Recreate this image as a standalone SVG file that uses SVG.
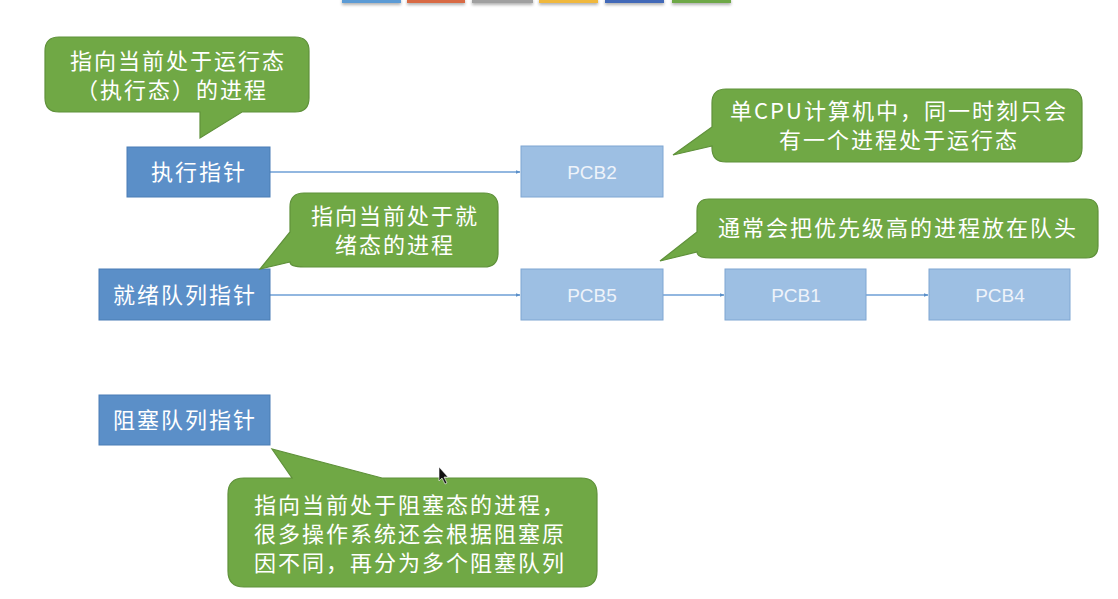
<svg xmlns="http://www.w3.org/2000/svg" width="1118" height="599" viewBox="0 0 1118 599">
<style>
.bg{fill:#ffffff}
.ptr{fill:#5b8fc8;stroke:#4a7db5;stroke-width:1}
.pcb{fill:#9dbfe3;stroke:#7fa6d2;stroke-width:1}
.call{fill:#70a845;stroke:#5f913a;stroke-width:1.2}
.t{font-family:"Noto Sans CJK SC","Microsoft YaHei",sans-serif;font-size:22px;fill:#ffffff;letter-spacing:2px}
.tc{text-anchor:middle}
.pt{font-family:"Liberation Sans","Noto Sans",sans-serif;font-size:19px;fill:#eef3fa;text-anchor:middle}
.ln{stroke:#6e9fd6;stroke-width:1.3;fill:none;marker-end:url(#ah)}
</style>
<defs>
<marker id="ah" viewBox="0 0 10 10" refX="9" refY="5" markerWidth="5" markerHeight="5" orient="auto" markerUnits="userSpaceOnUse">
<path d="M0,1 L10,5 L0,9 Z" fill="#5b8fc8"/>
</marker>
<filter id="sh" x="-10%" y="-50%" width="120%" height="300%">
<feDropShadow dx="0" dy="2" stdDeviation="1.5" flood-color="#000" flood-opacity="0.3"/>
</filter>
</defs>
<rect class="bg" x="0" y="0" width="1118" height="599"/>
<g id="toolbar" filter="url(#sh)">
<rect x="342" y="-2" width="59" height="5" fill="#5b9bd5"/>
<rect x="407" y="-2" width="58" height="5" fill="#d86a44"/>
<rect x="472" y="-2" width="61" height="5" fill="#a0a0a0"/>
<rect x="539" y="-2" width="59" height="5" fill="#f0b83c"/>
<rect x="605" y="-2" width="59" height="5" fill="#4269b8"/>
<rect x="672" y="-2" width="59" height="5" fill="#6ea846"/>
</g>
<g id="connectors">
<line class="ln" x1="270" y1="172" x2="520" y2="172"/>
<line class="ln" x1="270" y1="295" x2="520" y2="295"/>
<line class="ln" x1="663" y1="295" x2="724" y2="295"/>
<line class="ln" x1="866" y1="295" x2="928" y2="295"/>
</g>
<g id="exec-ptr">
<rect class="ptr" x="127" y="147" width="143" height="50"/>
<text class="t tc" x="199" y="180">执行指针</text>
</g>
<g id="ready-ptr">
<rect class="ptr" x="99" y="269" width="171" height="51"/>
<text class="t tc" x="185" y="303">就绪队列指针</text>
</g>
<g id="block-ptr">
<rect class="ptr" x="99" y="395" width="171" height="50"/>
<text class="t tc" x="185" y="428">阻塞队列指针</text>
</g>
<g id="pcb2">
<rect class="pcb" x="521" y="146" width="142" height="51"/>
<text class="pt" x="592" y="179">PCB2</text>
</g>
<g id="pcb5">
<rect class="pcb" x="521" y="269" width="142" height="51"/>
<text class="pt" x="592" y="302">PCB5</text>
</g>
<g id="pcb1">
<rect class="pcb" x="725" y="269" width="141" height="51"/>
<text class="pt" x="796" y="302">PCB1</text>
</g>
<g id="pcb4">
<rect class="pcb" x="929" y="269" width="141" height="51"/>
<text class="pt" x="1000" y="302">PCB4</text>
</g>
<g id="note-running">
<path class="call" d="M59,37 H295 Q309,37 309,51 V98 Q309,112 295,112 H242 L200,138 L200,112 H59 Q45,112 45,98 V51 Q45,37 59,37 Z"/>
<text class="t tc" x="178" y="69">指向当前处于运行态</text>
<text class="t tc" x="172" y="98">（执行态）的进程</text>
</g>
<g id="note-single-cpu">
<path class="call" d="M726,89 H1068 Q1082,89 1082,103 V148 Q1082,162 1068,162 H726 Q712,162 712,148 V146 L673,155 L712,127 V103 Q712,89 726,89 Z"/>
<text class="t tc" x="899" y="119">单CPU计算机中，同一时刻只会</text>
<text class="t tc" x="899" y="148">有一个进程处于运行态</text>
</g>
<g id="note-ready">
<path class="call" d="M304,193 H484 Q498,193 498,207 V253 Q498,267 484,267 H304 Q290,267 290,262 L260,269 L290,232 V207 Q290,193 304,193 Z"/>
<text class="t tc" x="395" y="224">指向当前处于就</text>
<text class="t tc" x="395" y="253">绪态的进程</text>
</g>
<g id="note-priority">
<path class="call" d="M709,199 H1086 Q1098,199 1098,211 V246 Q1098,258 1086,258 H711 Q697,258 697,252 L660,261 L697,232 V211 Q697,199 709,199 Z"/>
<text class="t tc" x="898" y="236">通常会把优先级高的进程放在队头</text>
</g>
<g id="note-blocked">
<path class="call" d="M244,478 H292 L272,449 L382,478 H581 Q597,478 597,494 V571 Q597,587 581,587 H244 Q228,587 228,571 V494 Q228,478 244,478 Z"/>
<text class="t" x="254" y="513">指向当前处于阻塞态的进程，</text>
<text class="t" x="254" y="542">很多操作系统还会根据阻塞原</text>
<text class="t" x="254" y="571">因不同，再分为多个阻塞队列</text>
</g>
<path d="M439,467 L439,481 L442,478 L445,484 L447,483 L444,477 L448,477 Z" fill="#111" stroke="#fff" stroke-width="0.6"/>
</svg>
